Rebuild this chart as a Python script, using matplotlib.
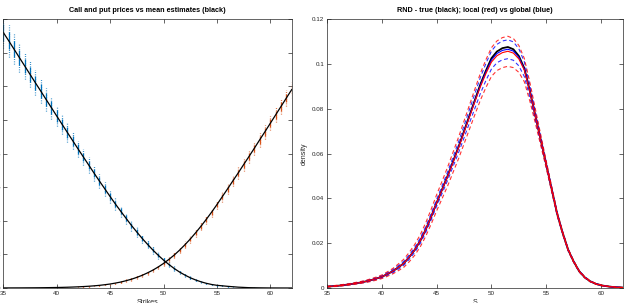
import numpy as np
import matplotlib
matplotlib.use('Agg')
import matplotlib.pyplot as plt
from matplotlib.ticker import FuncFormatter

plt.rcParams['font.family'] = ['Liberation Sans', 'DejaVu Sans']

# ---- left panel data: option prices per strike ----
strikes = np.arange(35, 62.01, 0.5)
call_mean = [15.20, 14.71, 14.21, 13.71, 13.21, 12.71, 12.21, 11.72, 11.22, 10.73,
             10.23, 9.74, 9.25, 8.76, 8.27, 7.79, 7.31, 6.83, 6.36, 5.90,
             5.44, 4.99, 4.56, 4.14, 3.72, 3.33, 2.95, 2.60, 2.26, 1.95,
             1.66, 1.40, 1.16, 0.95, 0.77, 0.61, 0.48, 0.37, 0.28, 0.21,
             0.16, 0.13, 0.10, 0.075, 0.05, 0.035, 0.02, 0.015, 0.01, 0.006,
             0.003, 0.002, 0.001, 0.0005, 0.0]
put_mean = [0.004, 0.005, 0.006, 0.007, 0.009, 0.011, 0.013, 0.016, 0.020, 0.025,
            0.030, 0.037, 0.046, 0.057, 0.070, 0.086, 0.105, 0.129, 0.158, 0.195,
            0.237, 0.293, 0.355, 0.435, 0.523, 0.632, 0.754, 0.900, 1.062, 1.25,
            1.46, 1.70, 1.96, 2.25, 2.57, 2.91, 3.28, 3.67, 4.08, 4.51,
            4.96, 5.43, 5.90, 6.38, 6.85, 7.34, 7.82, 8.31, 8.81, 9.30,
            9.80, 10.30, 10.80, 11.30, 11.80]
# half range of the monte carlo estimates at each strike
call_spread = [0.95, 0.95, 0.9, 0.85, 0.8, 0.78, 0.75, 0.72, 0.7, 0.66,
               0.62, 0.58, 0.55, 0.52, 0.5, 0.48, 0.46, 0.44, 0.42, 0.4,
               0.38, 0.36, 0.34, 0.32, 0.3, 0.28, 0.26, 0.24, 0.22, 0.2,
               0.18, 0.16, 0.14, 0.12, 0.1, 0.09, 0.08, 0.07, 0.06, 0.05,
               0.04, 0.035, 0.03, 0.025, 0.02, 0.02, 0.015, 0.015, 0.01, 0.01,
               0.01, 0.01, 0.01, 0.01, 0.01]
put_spread = [0.01, 0.01, 0.01, 0.01, 0.01, 0.01, 0.01, 0.01, 0.01, 0.01,
              0.015, 0.015, 0.02, 0.02, 0.025, 0.03, 0.03, 0.035, 0.04, 0.045,
              0.05, 0.06, 0.07, 0.08, 0.09, 0.1, 0.11, 0.12, 0.13, 0.14,
              0.15, 0.16, 0.17, 0.18, 0.2, 0.21, 0.22, 0.24, 0.25, 0.27,
              0.28, 0.3, 0.31, 0.33, 0.34, 0.36, 0.37, 0.39, 0.4, 0.42,
              0.43, 0.45, 0.46, 0.48, 0.5]

# ---- right panel data: risk neutral density ----
s_grid = np.arange(35, 62.01, 0.5)
rnd_true = [0.0006, 0.0008, 0.001, 0.0013, 0.0016, 0.002, 0.0024, 0.0029, 0.0035, 0.0042,
            0.005, 0.0062, 0.0075, 0.0092, 0.011, 0.0138, 0.017, 0.021, 0.026, 0.0318,
            0.038, 0.044, 0.050, 0.0565, 0.063, 0.070, 0.077, 0.084, 0.091, 0.097,
            0.1025, 0.1055, 0.107, 0.1075, 0.1065, 0.1035, 0.098, 0.088, 0.077, 0.066,
            0.055, 0.044, 0.033, 0.0245, 0.017, 0.0118, 0.0075, 0.0048, 0.003, 0.0019,
            0.0012, 0.0008, 0.0005, 0.0003, 0.0002]
rnd_local = [0.0006, 0.0008, 0.001, 0.0013, 0.0016, 0.002, 0.0024, 0.0029, 0.0035, 0.0042,
             0.005, 0.0062, 0.0075, 0.0092, 0.011, 0.0138, 0.017, 0.021, 0.026, 0.0318,
             0.038, 0.0438, 0.0497, 0.0561, 0.0625, 0.0694, 0.0763, 0.0832, 0.0899, 0.0957,
             0.1008, 0.1036, 0.105, 0.1056, 0.1048, 0.1022, 0.0972, 0.0876, 0.0768, 0.0659,
             0.055, 0.044, 0.033, 0.0245, 0.017, 0.0118, 0.0075, 0.0048, 0.003, 0.0019,
             0.0012, 0.0008, 0.0005, 0.0003, 0.0002]
rnd_global = [0.0006, 0.0008, 0.001, 0.0013, 0.0016, 0.002, 0.0024, 0.0029, 0.0035, 0.0042,
              0.005, 0.0062, 0.0075, 0.0092, 0.011, 0.0138, 0.017, 0.021, 0.026, 0.0318,
              0.038, 0.0439, 0.0499, 0.0563, 0.0628, 0.0697, 0.0767, 0.0836, 0.0905, 0.0964,
              0.1017, 0.1046, 0.1060, 0.1065, 0.1057, 0.1029, 0.0976, 0.0878, 0.0769, 0.066,
              0.055, 0.044, 0.033, 0.0245, 0.017, 0.0118, 0.0075, 0.0048, 0.003, 0.0019,
              0.0012, 0.0008, 0.0005, 0.0003, 0.0002]
local_sd = [0.0002, 0.0002, 0.0003, 0.0003, 0.0003, 0.0004, 0.0004, 0.0005, 0.0006, 0.0007,
            0.0008, 0.001, 0.0012, 0.0015, 0.0018, 0.0021, 0.0024, 0.0027, 0.003, 0.0033,
            0.0036, 0.0039, 0.0042, 0.0045, 0.0048, 0.0051, 0.0054, 0.0057, 0.006, 0.0062,
            0.0064, 0.0066, 0.0067, 0.0067, 0.0065, 0.006, 0.0052, 0.0042, 0.0032, 0.0024,
            0.0016, 0.0012, 0.0008, 0.0006, 0.0005, 0.0004, 0.0003, 0.0003, 0.0002, 0.0002,
            0.0002, 0.0001, 0.0001, 0.0001, 0.0001]
global_sd = [0.0001, 0.0001, 0.0001, 0.0002, 0.0002, 0.0002, 0.0003, 0.0003, 0.0004, 0.0004,
             0.0005, 0.0006, 0.0007, 0.0008, 0.0009, 0.001, 0.0011, 0.0012, 0.0013, 0.0014,
             0.0015, 0.0017, 0.0019, 0.0021, 0.0024, 0.0027, 0.003, 0.0033, 0.0036, 0.0038,
             0.004, 0.0041, 0.0042, 0.0042, 0.0041, 0.0038, 0.0033, 0.0027, 0.002, 0.0015,
             0.0011, 0.0009, 0.0007, 0.0005, 0.0004, 0.0003, 0.0003, 0.0002, 0.0002, 0.0001,
             0.0001, 0.0001, 0.0001, 0.0001, 0.0001]

c_blue = (0, 0.447, 0.741)
c_orange = (0.85, 0.325, 0.098)
axcol = '#262626'

fig = plt.figure(figsize=(6.26, 3.03), dpi=100)

def style(ax):
    for sp in ax.spines.values():
        sp.set_linewidth(0.5)
        sp.set_color(axcol)
    ax.tick_params(direction='in', top=True, right=True, length=3, width=0.5,
                   labelsize=4.5, colors=axcol, pad=2)

# left panel
ax1 = fig.add_axes([3.3/626, 15/303, 288.4/626, 269/303])
cm = np.array(call_mean); pm = np.array(put_mean)
cs = np.array(call_spread); ps = np.array(put_spread)
ax1.vlines(strikes, cm - cs, cm + cs, colors=[c_blue], linestyles=(0, (0.6, 1.2)), linewidth=0.9)
ax1.vlines(strikes, cm - 0.55*cs, cm + 0.55*cs, colors=[c_blue], linewidth=0.9)
ax1.vlines(strikes, pm - ps, pm + ps, colors=[c_orange], linestyles=(0, (0.6, 1.2)), linewidth=0.9)
ax1.vlines(strikes, pm - 0.55*ps, pm + 0.55*ps, colors=[c_orange], linewidth=0.9)
ax1.plot(strikes, cm, color='k', lw=0.9)
ax1.plot(strikes, pm, color='k', lw=0.9)
ax1.set_xlim(35, 62)
ax1.set_ylim(0, 16)
ax1.set_xticks([35, 40, 45, 50, 55, 60])
ax1.set_yticks(np.arange(0, 17, 2))
style(ax1)
ax1.set_xlabel('Strikes', fontsize=5, color=axcol, labelpad=2)
ax1.set_title('Call and put prices vs mean estimates (black)', fontsize=5.2, fontweight='bold', pad=5)

# right panel
ax2 = fig.add_axes([327/626, 15/303, 296/626, 269/303])
rt = np.array(rnd_true); rl = np.array(rnd_local); rg = np.array(rnd_global)
lsd = np.array(local_sd); gsd = np.array(global_sd)
ax2.plot(s_grid, rt, color='k', lw=1.3)
ax2.plot(s_grid, rg, color='b', lw=0.8)
ax2.plot(s_grid, rg + gsd, color='b', lw=0.8, dashes=(3.5, 2.5), alpha=0.8)
ax2.plot(s_grid, rg - gsd, color='b', lw=0.8, dashes=(3.5, 2.5), alpha=0.8)
ax2.plot(s_grid, rl, color='r', lw=0.8)
ax2.plot(s_grid, rl + lsd, color='r', lw=0.8, dashes=(3.5, 2.5), alpha=0.8)
ax2.plot(s_grid, rl - lsd, color='r', lw=0.8, dashes=(3.5, 2.5), alpha=0.8)
ax2.set_xlim(35, 62)
ax2.set_ylim(0, 0.12)
ax2.set_xticks([35, 40, 45, 50, 55, 60])
ax2.set_yticks(np.arange(0, 0.121, 0.02))
ax2.yaxis.set_major_formatter(FuncFormatter(lambda v, p: '%g' % round(v, 4)))
style(ax2)
ax2.set_xlabel('S', fontsize=5, color=axcol, labelpad=2)
ax2.set_ylabel('density', fontsize=5, color=axcol, labelpad=3)
ax2.set_title('RND - true (black); local (red) vs global (blue)', fontsize=5.2, fontweight='bold', pad=5)

fig.savefig('out.png', dpi=100)
